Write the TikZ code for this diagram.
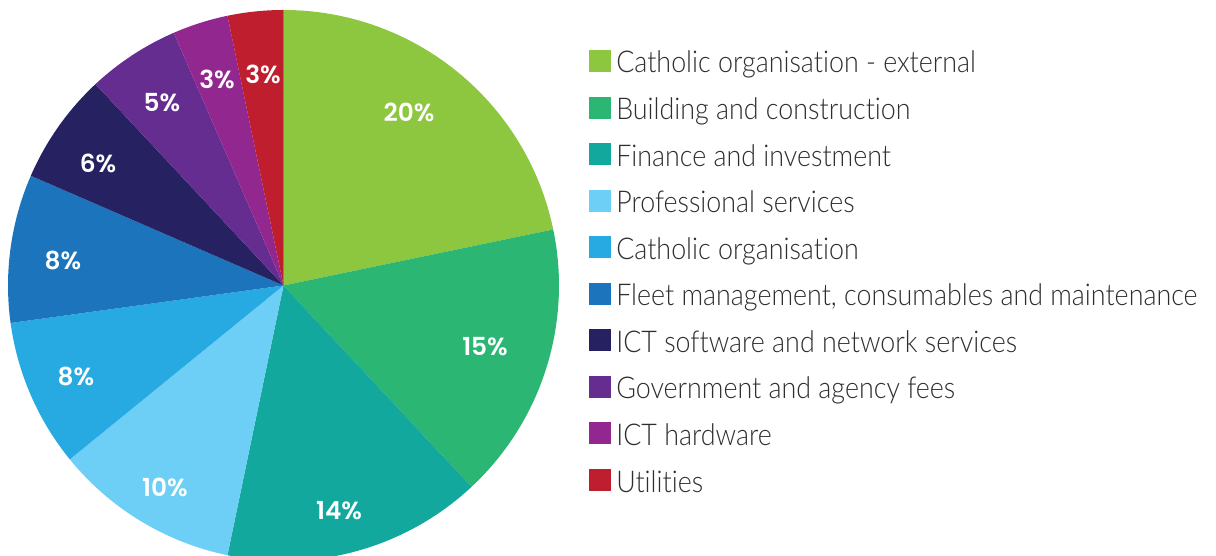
\documentclass[tikz,border=0pt]{standalone}
\usepackage{fontspec}
\setmainfont{Lato}
\newfontfamily\legendfont[FakeStretch=0.895,Ligatures={NoCommon,NoRare}]{Lato Light}
\newfontfamily\pctfont[BoldFont={Poppins SemiBold}]{Poppins}
\definecolor{cA}{HTML}{8DC63F}
\definecolor{cB}{HTML}{2BB673}
\definecolor{cC}{HTML}{12A89D}
\definecolor{cD}{HTML}{6DCFF6}
\definecolor{cE}{HTML}{27AAE1}
\definecolor{cF}{HTML}{1C75BC}
\definecolor{cG}{HTML}{262262}
\definecolor{cH}{HTML}{662D91}
\definecolor{cI}{HTML}{92278F}
\definecolor{cJ}{HTML}{BE1E2D}
\definecolor{legtxt}{HTML}{2E2E2E}
\begin{document}
\begin{tikzpicture}[x=0.75pt,y=0.75pt,
  pct/.style={text=white,font=\pctfont\bfseries\fontsize{18.6}{20}\selectfont,inner sep=0pt},
  legsq/.style={minimum size=16.5pt,inner sep=0pt,draw=none},
  legtext/.style={text=legtxt,font=\legendfont\fontsize{22.5}{26}\selectfont,inner sep=0pt,anchor=base west}]
\useasboundingbox (0,0) rectangle (1216,556);
\clip (0,0) rectangle (1216,556);
\coordinate (c) at (283.5,270.5);
\def\R{275.5}
\foreach \s/\e/\col in {90/11.7391/cA, 11.7391/-46.9565/cB, -46.9565/-101.7391/cC,
  -101.7391/-140.8696/cD, -140.8696/-172.1739/cE, -172.1739/-203.4783/cF,
  -203.4783/-226.9565/cG, -226.9565/-246.5217/cH, -246.5217/-258.2609/cI,
  -258.2609/-270/cJ}
  \fill[\col] (c) -- ++(\s:\R) arc[start angle=\s, end angle=\e, radius=\R] -- cycle;
% percentage labels
\node[pct] (p1) at (409,444) {20\%};
\node[pct] (p2) at (485,209) {15\%};
\node[pct] (p3) at (339,45) {14\%};
\node[pct] (p4) at (165,69) {10\%};
\node[pct] (p5) at (76,180) {8\%};
\node[pct] (p6) at (63,296) {8\%};
\node[pct] (p7) at (98,393) {6\%};
\node[pct] (p8) at (162,453) {5\%};
\node[pct] (p9) at (217,477) {3\%};
\node[pct] (p10) at (263,482) {3\%};
% legend
\foreach \i/\col/\txt in {0/cA/Catholic organisation - external, 1/cB/Building and construction,
  2/cC/Finance and investment, 3/cD/Professional services, 4/cE/Catholic organisation,
  5/cF/{Fleet management, consumables and maintenance}, 6/cG/ICT software and network services,
  7/cH/Government and agency fees, 8/cI/ICT hardware, 9/cJ/Utilities} {
  \pgfmathsetmacro{\yc}{556-61-46.56*\i}
  \node[legsq,fill=\col] (sq\i) at (600,\yc) {};
  \node[legtext] (lt\i) at (616,\yc-12) {\txt};
}
\end{tikzpicture}
\end{document}
